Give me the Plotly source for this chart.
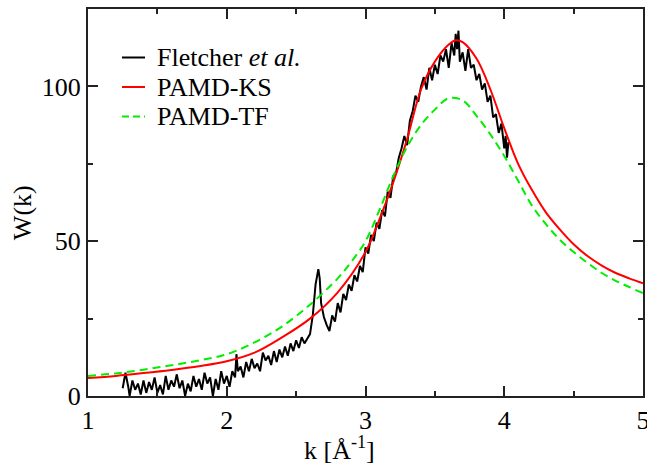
import plotly.graph_objects as go

# Experimental data (Fletcher et al.)
k_exp = [1.25, 1.27, 1.29, 1.30, 1.32, 1.34, 1.36, 1.38, 1.40, 1.42, 1.44, 1.46, 1.48, 1.50,
         1.52, 1.54, 1.56, 1.58, 1.60, 1.62, 1.64, 1.66, 1.68, 1.70, 1.72, 1.74, 1.76, 1.78,
         1.80, 1.82, 1.84, 1.86, 1.88, 1.90, 1.92, 1.94, 1.96, 1.98, 2.00, 2.02, 2.04, 2.06,
         2.07, 2.08, 2.10, 2.12, 2.14, 2.16, 2.18, 2.20, 2.22, 2.24, 2.26, 2.28, 2.30, 2.32,
         2.34, 2.36, 2.38, 2.40, 2.42, 2.44, 2.46, 2.48, 2.50, 2.52, 2.54, 2.56, 2.58, 2.60,
         2.62, 2.64, 2.66, 2.67, 2.68, 2.70, 2.72, 2.74, 2.76, 2.78, 2.80, 2.82, 2.84, 2.86,
         2.88, 2.90, 2.92, 2.94, 2.96, 2.98, 3.00, 3.02, 3.04, 3.06, 3.08, 3.10, 3.12, 3.14,
         3.16, 3.18, 3.20, 3.22, 3.24, 3.26, 3.28, 3.30, 3.32, 3.34, 3.36, 3.38, 3.40, 3.42,
         3.44, 3.46, 3.48, 3.50, 3.52, 3.54, 3.56, 3.58, 3.60, 3.62, 3.64, 3.65, 3.66, 3.67,
         3.68, 3.70, 3.72, 3.74, 3.76, 3.78, 3.80, 3.82, 3.84, 3.86, 3.88, 3.90, 3.92, 3.94,
         3.96, 3.98, 4.00, 4.01, 4.02, 4.03]
w_exp = [2.5, 7.5, 3.0, 0.0, 5.0, 2.0, 4.0, 0.5, 5.0, 1.0, 4.5, 2.0, 6.0, 1.0,
         3.5, 0.5, 6.5, 2.0, 5.0, 3.0, 7.0, 2.5, 5.0, 0.0, 4.0, 1.5, 6.5, 3.0,
         5.5, 2.0, 7.5, 4.0, 6.0, 0.0, 5.5, 2.0, 8.0, 4.0, 6.5, 3.0, 8.0, 6.0,
         13.5, 8.0, 9.5, 6.0, 11.0, 8.0, 12.0, 9.0, 10.5, 8.0, 14.0, 11.5, 13.0, 10.0,
         14.5, 11.0, 15.0, 12.5, 16.0, 13.0, 17.0, 14.5, 18.0, 15.5, 19.0, 17.0, 18.5, 20.0,
         26.0, 36.0, 41.0, 38.0, 30.0, 25.5, 23.0, 21.0, 26.0, 24.0, 30.0, 27.0, 33.0, 31.0,
         36.0, 34.0, 39.0, 37.0, 42.0, 40.0, 48.0, 46.0, 52.0, 50.0, 56.0, 54.0, 60.0, 58.0,
         66.0, 64.0, 71.0, 72.0, 77.0, 80.0, 84.0, 81.0, 89.0, 92.0, 97.0, 95.0, 100.0, 103.0,
         99.0, 106.0, 102.0, 107.0, 104.0, 110.0, 108.0, 112.0, 106.0, 114.0, 110.0, 117.0, 112.0, 118.0,
         108.0, 111.0, 105.0, 112.0, 106.0, 107.0, 102.0, 104.0, 99.0, 101.0, 95.0, 97.0, 90.0, 91.0,
         85.0, 88.0, 80.0, 84.0, 77.0, 82.0]

# PAMD-KS
k_ks = [1.0, 1.2, 1.4, 1.6, 1.8, 2.0, 2.2, 2.4, 2.6, 2.8, 3.0, 3.1, 3.2, 3.3, 3.4, 3.5,
        3.6, 3.65, 3.7, 3.8, 3.9, 4.0, 4.1, 4.2, 4.3, 4.4, 4.5, 4.6, 4.7, 4.8, 4.9, 5.0]
w_ks = [5.8, 6.5, 7.4, 8.4, 9.6, 11.2, 14.0, 19.0, 25.0, 33.5, 46.5, 57.0, 69.0, 83.0, 99.0, 108.0,
        113.5, 114.9, 114.3, 109.0, 99.0, 86.5, 75.0, 66.5, 59.3, 53.8, 49.0, 45.2, 42.2, 39.8, 38.0, 36.4]

# PAMD-TF
k_tf = [1.0, 1.2, 1.4, 1.6, 1.8, 2.0, 2.2, 2.4, 2.6, 2.8, 2.9, 3.0, 3.1, 3.2, 3.3, 3.4, 3.5,
        3.6, 3.7, 3.8, 3.9, 4.0, 4.1, 4.2, 4.3, 4.4, 4.5, 4.6, 4.7, 4.8, 4.9, 5.0]
w_tf = [6.5, 7.3, 8.5, 9.9, 11.5, 13.5, 17.3, 22.5, 29.5, 38.0, 43.5, 50.0, 60.0, 71.0, 80.5, 87.5, 92.5,
        96.2, 95.5, 90.5, 84.5, 77.5, 69.5, 61.5, 55.5, 50.5, 46.5, 43.0, 39.8, 37.3, 35.2, 33.2]

x_ticks = [1, 2, 3, 4, 5]
y_ticks = [0, 50, 100]
legend_names = ["Fletcher <i>et al.</i>", "PAMD-KS", "PAMD-TF"]

FONT = "Times New Roman, Liberation Serif, Tinos, DejaVu Serif, serif"
FS = 26

fig = go.Figure()
fig.add_trace(go.Scatter(x=k_exp, y=w_exp, mode="lines", name=legend_names[0],
                         line=dict(color="black", width=2)))
fig.add_trace(go.Scatter(x=k_ks, y=w_ks, mode="lines", name=legend_names[1],
                         line=dict(color="#ff0000", width=2, shape="spline")))
fig.add_trace(go.Scatter(x=k_tf, y=w_tf, mode="lines", name=legend_names[2],
                         line=dict(color="#00ee00", width=2, shape="spline", dash="8px,5px")))

axis_common = dict(
    showgrid=False, zeroline=False, showline=True, linecolor="#222", linewidth=2,
    mirror="allticks", ticks="inside", ticklen=10, tickwidth=1.5, tickcolor="#222",
    tickfont=dict(family=FONT, size=FS, color="black"), automargin=False,
    ticklabeloverflow="allow",
)

fig.update_xaxes(range=[1, 5], tickvals=x_ticks, ticktext=[str(v) for v in x_ticks],
                 minor=dict(dtick=0.5, ticks="inside", ticklen=5, tickwidth=1.5, tickcolor="#222"),
                 **axis_common)
fig.update_yaxes(range=[0, 125], tickvals=y_ticks, ticktext=[str(v) for v in y_ticks],
                 minor=dict(dtick=25, ticks="inside", ticklen=5, tickwidth=1.5, tickcolor="#222"),
                 **axis_common)

# Axis titles
fig.add_annotation(text="k [Å<sup>-1</sup>]", xref="paper", yref="paper", x=0.454, y=-0.136,
                   xanchor="center", yanchor="middle", showarrow=False,
                   font=dict(family=FONT, size=FS, color="black"))
fig.add_annotation(text="W(k)", xref="paper", yref="paper", x=-0.119, y=0.475,
                   xanchor="center", yanchor="middle", showarrow=False, textangle=-90,
                   font=dict(family=FONT, size=FS, color="black"))

# Manual legend
leg_styles = [dict(color="black", width=2), dict(color="#ff0000", width=2),
              dict(color="#00ee00", width=2, dash="7px,4px")]
leg_rows_px = [57.5, 87, 116.5]
for name, st, ypx in zip(legend_names, leg_styles, leg_rows_px):
    yp = (396 - ypx) / 387
    fig.add_shape(type="line", xref="paper", yref="paper",
                  x0=(122 - 88) / 555, x1=(145 - 88) / 555, y0=yp, y1=yp, line=st)
    fig.add_annotation(text=name, xref="paper", yref="paper", x=(155 - 88) / 555, y=yp,
                       xanchor="left", yanchor="middle", showarrow=False,
                       font=dict(family=FONT, size=FS, color="black"))

fig.update_layout(
    width=647, height=468,
    margin=dict(l=88, r=4, t=9, b=72),
    plot_bgcolor="white", paper_bgcolor="white",
    showlegend=False,
    font=dict(family=FONT, size=FS, color="black"),
)

fig.write_html("out.html", config={"displayModeBar": False},
               post_script="document.body.style.margin='0';document.body.style.padding='0';")
